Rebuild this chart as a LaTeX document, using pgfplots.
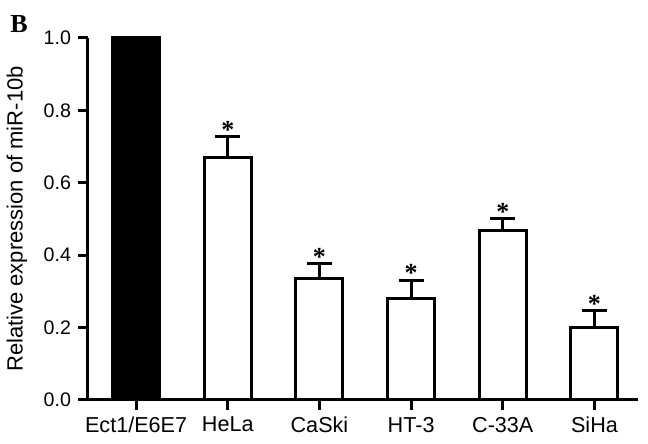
\documentclass[border=0pt]{standalone}
\usepackage{fontspec}
\setmainfont{Liberation Sans}
\newfontfamily\serifb{Liberation Serif}
\usepackage{pgfplots}
\usepackage{pgfplotstable}
\pgfplotsset{compat=1.18}

% x, mean, error (up)
\pgfplotstableread{
x y err
1 0.671 0.056
2 0.337 0.039
3 0.279 0.052
4 0.467 0.033
5 0.199 0.047
}\lines

\begin{document}
\begin{tikzpicture}
\path[use as bounding box] (-44pt,-22pt) rectangle (280pt,200pt);
\begin{axis}[
    scale only axis,
    width=275pt, height=181pt,
    xmin=-0.525, xmax=5.475,
    ymin=0, ymax=1.0,
    axis lines=left,
    axis line style={-, line width=1.5pt},
    every tick/.style={black, line width=1.5pt},
    major tick length=5pt,
    tick align=outside,
    xtick={0,1,2,3,4,5},
    xticklabels={Ect1/E6E7, HeLa, CaSki, HT-3, C-33A, SiHa},
    x tick label style={font=\fontsize{10.8}{12}\selectfont},
    ytick={0,0.2,0.4,0.6,0.8,1.0},
    y tick label style={font=\fontsize{9.8}{12}\selectfont},
    yticklabel style={/pgf/number format/.cd, fixed, fixed zerofill, precision=1, assume math mode=true},
    ylabel={Relative expression of miR-10b},
    ylabel style={font=\fontsize{11}{12}\selectfont, at={(axis description cs:0,0.5)}, anchor=center, yshift=35.5pt},
    clip=false,
]
% control bar
\addplot[ybar, bar width=23.5pt, fill=black, draw=black, line width=1.5pt] coordinates {(0,1.0)};
% cancer cell lines
\addplot[ybar, bar width=23.5pt, fill=white, draw=black, line width=1.5pt,
    error bars/.cd, y dir=plus, y explicit,
    error bar style={line width=1.5pt, black},
    error mark options={rotate=90, mark size=6.25pt, line width=1.5pt, black}]
    table[x=x, y=y, y error=err] {\lines};
% significance stars
\addplot[draw=none, mark=none, nodes near coords={*},
    every node near coord/.style={anchor=south, inner sep=0.5pt, yshift=-1.5pt,
        font=\serifb\bfseries\fontsize{13}{13}\selectfont}]
    table[x=x, y expr=\thisrow{y}+\thisrow{err}] {\lines};
\end{axis}
\node[anchor=north west, inner sep=0, font=\serifb\bfseries\fontsize{13}{13}\selectfont] at (-39pt,192.5pt) {B};
\end{tikzpicture}
\end{document}
